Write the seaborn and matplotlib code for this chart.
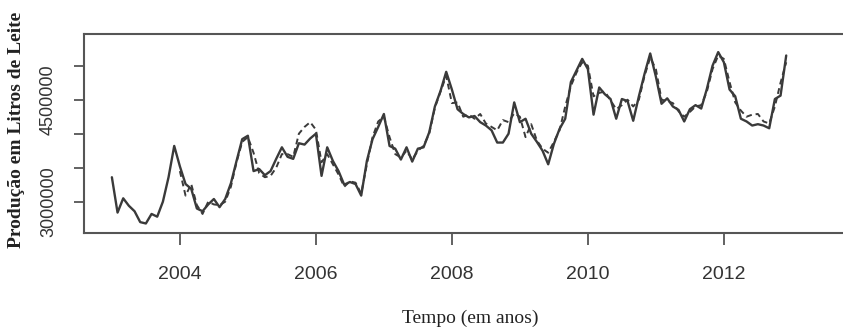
import numpy as np
import pandas as pd
import matplotlib
matplotlib.use("Agg")
import matplotlib.pyplot as plt
import seaborn as sns

# Monthly milk production (litres), Jan 2003 - Dec 2012
anos = list(range(2003, 2013))

producao = [
    3360000, 2840000, 3050000, 2940000, 2860000, 2700000, 2680000, 2820000, 2780000, 3000000, 3360000, 3820000,
    3520000, 3260000, 3190000, 2900000, 2860000, 2960000, 3040000, 2920000, 3040000, 3270000, 3600000, 3920000,
    3970000, 3450000, 3480000, 3390000, 3450000, 3630000, 3800000, 3660000, 3630000, 3860000, 3840000, 3930000,
    4000000, 3380000, 3800000, 3600000, 3450000, 3250000, 3290000, 3260000, 3090000, 3600000, 3920000, 4100000,
    4290000, 3820000, 3780000, 3620000, 3800000, 3590000, 3780000, 3800000, 4020000, 4400000, 4630000, 4910000,
    4650000, 4360000, 4290000, 4240000, 4260000, 4170000, 4120000, 4050000, 3870000, 3870000, 4000000, 4460000,
    4170000, 4220000, 4000000, 3880000, 3750000, 3550000, 3850000, 4070000, 4220000, 4760000, 4930000, 5100000,
    4950000, 4280000, 4680000, 4580000, 4510000, 4220000, 4510000, 4480000, 4190000, 4550000, 4880000, 5180000,
    4840000, 4440000, 4520000, 4400000, 4350000, 4180000, 4360000, 4420000, 4370000, 4660000, 5000000, 5200000,
    5050000, 4650000, 4550000, 4220000, 4180000, 4120000, 4140000, 4120000, 4080000, 4510000, 4560000, 5150000,
]

# Fitted values of the model, available from Jan 2004 onwards
ajustado = [
    3450000, 3090000, 3260000, 2950000, 2820000, 3000000, 2960000, 2950000, 3000000, 3220000, 3580000, 3880000,
    3950000, 3720000, 3420000, 3360000, 3380000, 3500000, 3700000, 3700000, 3660000, 4000000, 4100000, 4170000,
    4060000, 3580000, 3700000, 3550000, 3400000, 3220000, 3300000, 3280000, 3120000, 3550000, 3950000, 4180000,
    4250000, 3950000, 3700000, 3650000, 3750000, 3620000, 3750000, 3820000, 4000000, 4380000, 4620000, 4850000,
    4450000, 4460000, 4250000, 4280000, 4220000, 4290000, 4150000, 4100000, 4050000, 4200000, 4170000, 4300000,
    4250000, 3950000, 4140000, 3900000, 3780000, 3720000, 3880000, 4050000, 4400000, 4700000, 4900000, 5050000,
    5000000, 4550000, 4600000, 4620000, 4490000, 4360000, 4420000, 4500000, 4400000, 4500000, 4850000, 5120000,
    4950000, 4500000, 4480000, 4450000, 4330000, 4250000, 4320000, 4400000, 4420000, 4620000, 4950000, 5150000,
    5100000, 4760000, 4460000, 4340000, 4250000, 4280000, 4290000, 4180000, 4150000, 4400000, 4750000, 5050000,
]

anos_marcados = [2004, 2006, 2008, 2010, 2012]
valores_marcados = [3000000, 3500000, 4000000, 4500000, 5000000]
rotulos_y = ["3000000", "", "", "4500000", ""]

tempo = [a + m / 12 for a in anos for m in range(12)]
serie = pd.DataFrame({"tempo": tempo, "producao": producao})
serie_aj = pd.DataFrame({"tempo": tempo[12:], "producao": ajustado})

sns.set_style("ticks")
plt.rcParams["font.family"] = ["Liberation Sans", "DejaVu Sans"]

W, H = 843, 330
fig = plt.figure(figsize=(W / 100, H / 100), dpi=100)
left, right, top, bottom = 84, 850, 34, 233
ax = fig.add_axes([left / W, (H - bottom) / H, (right - left) / W, (bottom - top) / H])

cor = "#3a3a3a"
sns.lineplot(data=serie, x="tempo", y="producao", ax=ax, color=cor, linewidth=1.7)
sns.lineplot(data=serie_aj, x="tempo", y="producao", ax=ax, color=cor, linewidth=1.4,
             linestyle=(0, (3, 2)))

ax.set_xlim(2002.59, 2002.59 + (right - left) / 68.0)
ax.set_ylim(2540000, 5466000)

ax.set_xticks(anos_marcados)
ax.set_xticklabels([str(a) for a in anos_marcados], fontsize=14, color="#333333")
ax.set_yticks(valores_marcados)
ax.set_yticklabels(rotulos_y, fontsize=13, color="#333333", rotation=90, va="center")

ax.tick_params(axis="x", bottom=True, length=8.5, width=1.3, color="#555555", pad=15)
ax.tick_params(axis="y", left=True, length=7.5, width=1.3, color="#555555", pad=12)

for s in ax.spines.values():
    s.set_visible(True)
    s.set_color("#555555")
    s.set_linewidth(1.5)

ax.set_xlabel("Tempo (em anos)", fontsize=14, family=["Liberation Serif"], color="#222222")
ax.set_ylabel("Produção em Litros de Leite", fontsize=14, family=["Liberation Serif"],
              fontweight="bold", color="#222222", va="center")
ax.xaxis.set_label_coords((470 - left) / (right - left), (bottom - 310) / (bottom - top))
ax.yaxis.set_label_coords((17 - left) / (right - left), (bottom - 130) / (bottom - top))

fig.savefig("out.png", dpi=100)
